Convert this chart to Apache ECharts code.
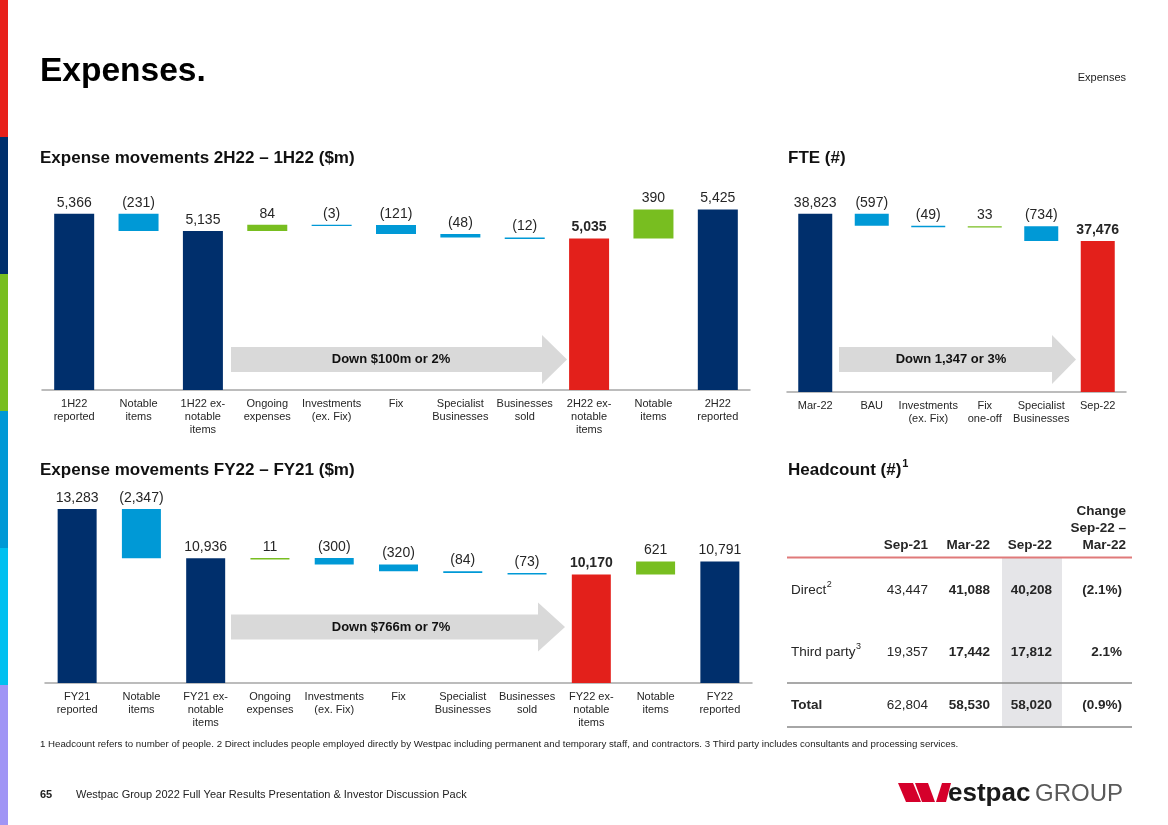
<!DOCTYPE html>
<html><head><meta charset="utf-8">
<script src="https://cdn.jsdelivr.net/npm/echarts@6.0.0/dist/echarts.min.js"></script>
<style>html,body{margin:0;padding:0;background:#fff}#c{width:1168px;height:825px}</style>
</head><body><div id="c"></div>
<script>
// ---------- DATA ----------
const h1Categories = ['1H22\nreported','Notable\nitems','1H22 ex-\nnotable\nitems','Ongoing\nexpenses','Investments\n(ex. Fix)','Fix','Specialist\nBusinesses','Businesses\nsold','2H22 ex-\nnotable\nitems','Notable\nitems','2H22\nreported'];
const h1Values = [5366, -231, 5135, 84, -3, -121, -48, -12, 5035, 390, 5425];
const h1Kinds = ['total','delta','total','delta','delta','delta','delta','delta','result','delta','total'];

const fteCategories = ['Mar-22','BAU','Investments\n(ex. Fix)','Fix\none-off','Specialist\nBusinesses','Sep-22'];
const fteValues = [38823, -597, -49, 33, -734, 37476];
const fteKinds = ['total','delta','delta','delta','delta','result'];

const fyCategories = ['FY21\nreported','Notable\nitems','FY21 ex-\nnotable\nitems','Ongoing\nexpenses','Investments\n(ex. Fix)','Fix','Specialist\nBusinesses','Businesses\nsold','FY22 ex-\nnotable\nitems','Notable\nitems','FY22\nreported'];
const fyValues = [13283, -2347, 10936, 11, -300, -320, -84, -73, 10170, 621, 10791];
const fyKinds = ['total','delta','total','delta','delta','delta','delta','delta','result','delta','total'];

const headcountColumns = ['Sep-21','Mar-22','Sep-22','Change\nSep-22 –\nMar-22'];
const headcountRows = ['Direct','Third party','Total'];
const headcountRowNotes = ['2','3',''];
const headcountSep21 = [43447, 19357, 62804];
const headcountMar22 = [41088, 17442, 58530];
const headcountSep22 = [40208, 17812, 58020];
const headcountChange = ['(2.1%)','2.1%','(0.9%)'];

// ---------- STYLE ----------
const F = "'Liberation Sans', Arial, Helvetica, sans-serif";
const NAVY = '#002f6c', BLUE = '#0099d6', GREEN = '#78be20', RED = '#e3201b', TXT = '#262626';

function fmt(v){ const s = Math.abs(v).toLocaleString('en-US'); return v < 0 ? '(' + s + ')' : s; }

function buildWaterfall(values, kinds){
  let run = 0;
  return values.map((v, i) => {
    if (kinds[i] === 'delta') {
      const lo = Math.min(run, run + v), hi = Math.max(run, run + v);
      run += v;
      return [i, lo, hi, v];
    }
    run = v;
    return [i, 0, v, v];
  });
}

function makeRender(kinds, values, barW){
  return function(params, api){
    const i = api.value(0), lo = api.value(1), hi = api.value(2);
    const v = values[i];
    const k = kinds[i];
    const cs = params.coordSys;
    const bottomEdge = cs.y + cs.height;
    const pHi = api.coord([i, hi]), pLo = api.coord([i, lo]);
    let yTop = pHi[1], yBot = Math.min(pLo[1], bottomEdge);
    if (yBot - yTop < 1.3) { yBot = yTop + 1.3; }
    let color = NAVY;
    if (k === 'result') color = RED;
    else if (k === 'delta') color = v >= 0 ? GREEN : BLUE;
    return {
      type: 'group',
      children: [
        { type: 'rect', shape: { x: pHi[0] - barW / 2, y: yTop, width: barW, height: yBot - yTop }, style: { fill: color } },
        { type: 'text', style: { text: fmt(v), x: pHi[0], y: yTop - 4, align: 'center', verticalAlign: 'bottom',
            font: (k === 'result' ? 'bold ' : '') + '14px ' + F, fill: TXT } }
      ]
    };
  };
}

function xAxisFor(gi, cats){
  return {
    type: 'category', gridIndex: gi, data: cats,
    axisTick: { show: false },
    axisLine: { lineStyle: { color: '#a6a6a6', width: 1.5 } },
    axisLabel: { interval: 0, fontSize: 11, fontFamily: F, color: TXT, lineHeight: 13, margin: 7 }
  };
}

// ---------- GRAPHICS ----------
const g = [];
const strip = [['#e8201a',0,137],['#002f6c',137,137],['#78be20',274,137],['#0099d6',411,137],['#00c0f0',548,137],['#a095f5',685,140]];
strip.forEach(s => g.push({ type: 'rect', shape: { x: 0, y: s[1], width: 8, height: s[2] }, style: { fill: s[0] } }));

function txt(t, x, y, size, opts){
  opts = opts || {};
  g.push({ type: 'text', x: x, y: y, z: 10, style: Object.assign({ text: t, font: (opts.bold ? 'bold ' : '') + size + 'px ' + F,
    fill: opts.fill || TXT, align: opts.align || 'left', verticalAlign: opts.va || 'middle', lineHeight: opts.lh }, opts.extra || {}) });
}
const measureCtx = document.createElement('canvas').getContext('2d');
function textW(t, size, bold){ measureCtx.font = (bold ? 'bold ' : '') + size + 'px ' + F; return measureCtx.measureText(t).width; }

txt('Expenses.', 40, 72, 33.5, { bold: true, fill: '#000' });
txt('Expenses', 1126, 78, 11, { align: 'right', fill: '#222' });
txt('Expense movements 2H22 – 1H22 ($m)', 40, 158, 17, { bold: true, fill: '#111' });
txt('FTE (#)', 788, 158, 17, { bold: true, fill: '#111' });
txt('Expense movements FY22 – FY21 ($m)', 40, 470, 17, { bold: true, fill: '#111' });
txt('Headcount (#)', 788, 470, 17, { bold: true, fill: '#111' });
txt('1', 788 + textW('Headcount (#)', 17, true) + 1, 464, 11, { bold: true, fill: '#111' });

function arrow(x0, xh, xt, yc, label, lx){
  g.push({ type: 'polygon', shape: { points: [[x0, yc - 12.5], [xh, yc - 12.5], [xh, yc - 24.5], [xt, yc], [xh, yc + 24.5], [xh, yc + 12.5], [x0, yc + 12.5]] },
    style: { fill: '#d9d9d9' } });
  txt(label, lx, yc, 13, { bold: true, align: 'center', fill: '#111' });
}
arrow(231, 542, 567, 359.5, 'Down $100m or 2%', 391);
arrow(839, 1052, 1076, 359.5, 'Down 1,347 or 3%', 951);
arrow(231, 538, 565, 627, 'Down $766m or 7%', 391);

// Table
g.push({ type: 'rect', shape: { x: 1002, y: 558, width: 60, height: 169 }, style: { fill: '#e5e5e8' } });
g.push({ type: 'line', shape: { x1: 787, y1: 557.5, x2: 1132, y2: 557.5 }, style: { stroke: '#e07a7a', lineWidth: 1.8 } });
g.push({ type: 'line', shape: { x1: 787, y1: 683, x2: 1132, y2: 683 }, style: { stroke: '#8c8c8c', lineWidth: 1.5 } });
g.push({ type: 'line', shape: { x1: 787, y1: 727, x2: 1132, y2: 727 }, style: { stroke: '#a6a6a6', lineWidth: 2 } });
const colRight = [928, 990, 1052, 1126];
headcountColumns.forEach((c, j) => {
  if (c.indexOf('\n') >= 0) txt(c, colRight[j], 528, 13.5, { bold: true, align: 'right', lh: 17 });
  else txt(c, colRight[j], 545, 13.5, { bold: true, align: 'right' });
});
const rowY = [590, 652, 705];
headcountRows.forEach((r, i) => {
  const bold = r === 'Total';
  txt(r, 791, rowY[i], 13.5, { bold: bold });
  if (headcountRowNotes[i]) txt(headcountRowNotes[i], 791 + textW(r, 13.5, bold) + 0.5, rowY[i] - 5, 9);
  txt(headcountSep21[i].toLocaleString('en-US'), colRight[0], rowY[i], 13.5, { align: 'right' });
  txt(headcountMar22[i].toLocaleString('en-US'), colRight[1], rowY[i], 13.5, { bold: true, align: 'right' });
  txt(headcountSep22[i].toLocaleString('en-US'), colRight[2], rowY[i], 13.5, { bold: true, align: 'right' });
  txt(headcountChange[i], colRight[3] - 4, rowY[i], 13.5, { bold: true, align: 'right' });
});

txt('1 Headcount refers to number of people. 2 Direct includes people employed directly by Westpac including permanent and temporary staff, and contractors. 3 Third party includes consultants and processing services.', 40, 744, 9.7, { fill: '#222' });
txt('65', 40, 795, 11, { bold: true, fill: '#222' });
txt('Westpac Group 2022 Full Year Results Presentation & Investor Discussion Pack', 76, 795, 11, { fill: '#222' });

// Logo
const LR = '#d5002b';
g.push({ type: 'polygon', shape: { points: [[898, 783], [913, 783], [921, 802], [906, 802]] }, style: { fill: LR } });
g.push({ type: 'polygon', shape: { points: [[915, 783], [928, 783], [935, 802], [922, 802]] }, style: { fill: LR } });
g.push({ type: 'polygon', shape: { points: [[936, 802], [946, 802], [951, 783], [942, 783]] }, style: { fill: LR } });
txt('estpac', 948, 794, 26, { bold: true, fill: '#1a1a1a' });
txt('GROUP', 1035, 794, 24, { fill: '#5a5a5a' });

// ---------- CHART ----------
const chart = echarts.init(document.getElementById('c'), null, { renderer: 'canvas' });
chart.setOption({
  animation: false,
  backgroundColor: '#fff',
  grid: [
    { left: 42, top: 189, width: 708, height: 201 },
    { left: 787, top: 190, width: 339, height: 202 },
    { left: 45, top: 494, width: 707, height: 189 }
  ],
  xAxis: [xAxisFor(0, h1Categories), xAxisFor(1, fteCategories), xAxisFor(2, fyCategories)],
  yAxis: [
    { gridIndex: 0, min: 3000, max: 5700, show: false },
    { gridIndex: 1, min: 30000, max: 40000, show: false },
    { gridIndex: 2, min: 5000, max: 14000, show: false }
  ],
  series: [
    { type: 'custom', xAxisIndex: 0, yAxisIndex: 0, renderItem: makeRender(h1Kinds, h1Values, 40), encode: { x: 0, y: [1, 2] }, data: buildWaterfall(h1Values, h1Kinds) },
    { type: 'custom', xAxisIndex: 1, yAxisIndex: 1, renderItem: makeRender(fteKinds, fteValues, 34), encode: { x: 0, y: [1, 2] }, data: buildWaterfall(fteValues, fteKinds) },
    { type: 'custom', xAxisIndex: 2, yAxisIndex: 2, renderItem: makeRender(fyKinds, fyValues, 39), encode: { x: 0, y: [1, 2] }, data: buildWaterfall(fyValues, fyKinds) }
  ],
  graphic: g
});
</script>
</body></html>
